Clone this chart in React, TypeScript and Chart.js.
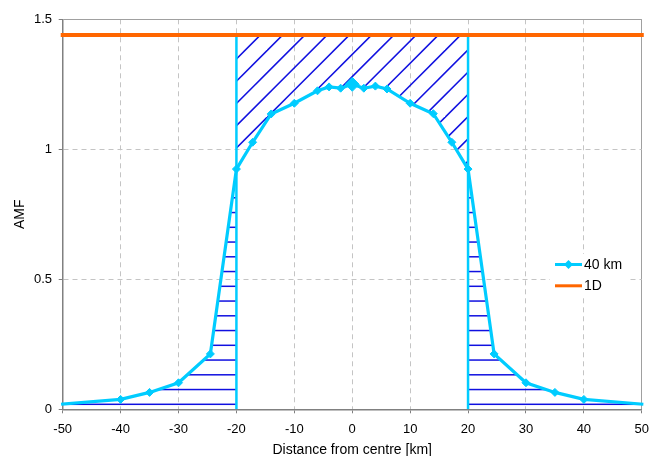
import { useEffect, useRef } from 'react';
import { Chart, registerables } from 'chart.js';

Chart.register(...registerables);

// ---- data ----
const distances = [-50, -40, -35, -30, -24.5, -20, -17.2, -14, -10, -6, -4, -2, 0, 2, 4, 6, 10, 14, 17.2, 20, 24.5, 30, 35, 40, 50];
const amf40km = [0.02, 0.038, 0.065, 0.102, 0.213, 0.924, 1.027, 1.136, 1.177, 1.225, 1.24, 1.235, 1.25, 1.235, 1.243, 1.232, 1.177, 1.137, 1.027, 0.924, 0.213, 0.102, 0.065, 0.038, 0.02];
const amf1D = 1.44;
const xRange = [-50, 50];
const cloudEdges = [-20, 20];
const xTicks = [-50, -40, -30, -20, -10, 0, 10, 20, 30, 40, 50];
const yTicks = [0, 0.5, 1, 1.5];
const yTickLabels = ['0', '0.5', '1', '1.5'];
const seriesLabels = ['40 km', '1D'];
const xTitle = 'Distance from centre [km]';
const yTitle = 'AMF';

const FONT = '"Liberation Sans", Arial, Helvetica, sans-serif';
const CYAN = '#00ccff';
const ORANGE = '#ff6600';
const HATCH = '#1010e0';

function horizontalHatch(ctx: CanvasRenderingContext2D, spacing: number, offset: number) {
  const n = 4;
  const H = Math.round(spacing * n);
  const step = H / n;
  const c = document.createElement('canvas');
  c.width = 8;
  c.height = H;
  const g = c.getContext('2d')!;
  g.strokeStyle = HATCH;
  g.lineWidth = 1.5;
  for (let k = -1; k <= n; k++) {
    const y = offset + k * step;
    g.beginPath();
    g.moveTo(0, y);
    g.lineTo(8, y);
    g.stroke();
  }
  return ctx.createPattern(c, 'repeat')!;
}

function diagonalHatch(ctx: CanvasRenderingContext2D, spacing: number, offset: number) {
  const n = 4;
  const S = Math.round(spacing * n);
  const step = S / n;
  const c = document.createElement('canvas');
  c.width = S;
  c.height = S;
  const g = c.getContext('2d')!;
  g.strokeStyle = HATCH;
  g.lineWidth = 1.5;
  for (let k = -2; k <= 2 * n + 2; k++) {
    const cc = offset + k * step;
    g.beginPath();
    g.moveTo(cc + 10, -10);
    g.lineTo(-10, cc + 10);
    g.stroke();
  }
  return ctx.createPattern(c, 'repeat')!;
}

const sideLegend = {
  id: 'sideLegend',
  afterDatasetsDraw(chart: any) {
    const ctx = chart.ctx as CanvasRenderingContext2D;
    ctx.save();
    ctx.fillStyle = '#ffffff';
    ctx.fillRect(550, 254, 78, 42);
    [0, 1].forEach((di, i) => {
      const ds = chart.data.datasets[di];
      const y = 264.5 + i * 21.3;
      ctx.strokeStyle = ds.borderColor;
      ctx.lineWidth = 3;
      ctx.beginPath();
      ctx.moveTo(555, y);
      ctx.lineTo(582, y);
      ctx.stroke();
      if (i === 0) {
        const r = 4.5;
        const cx = 568.5;
        ctx.fillStyle = ds.borderColor;
        ctx.beginPath();
        ctx.moveTo(cx - r, y);
        ctx.lineTo(cx, y - r);
        ctx.lineTo(cx + r, y);
        ctx.lineTo(cx, y + r);
        ctx.closePath();
        ctx.fill();
      }
      ctx.fillStyle = '#000';
      ctx.font = `14px ${FONT}`;
      ctx.textBaseline = 'middle';
      ctx.textAlign = 'left';
      ctx.fillText(ds.label, 584, y + 0.5);
    });
    ctx.restore();
  },
};

export default function App() {
  const ref = useRef<HTMLCanvasElement>(null);

  useEffect(() => {
    const canvas = ref.current!;
    const ctx = canvas.getContext('2d')!;
    const diag = diagonalHatch(ctx, 22.25, 6.15);
    const horiz = horizontalHatch(ctx, 14.75, 6.05);

    const pts = distances.map((x, i) => ({ x, y: amf40km[i] }));
    const inner = pts.filter((p) => p.x >= cloudEdges[0] && p.x <= cloudEdges[1]);
    const left = pts.filter((p) => p.x <= cloudEdges[0]);
    const right = pts.filter((p) => p.x >= cloudEdges[1]);

    const hatchBase = {
      borderColor: 'transparent',
      borderWidth: 0,
      pointRadius: 0,
      tension: 0,
    };

    const chart = new Chart(canvas, {
      type: 'line',
      data: {
        datasets: [
          {
            label: seriesLabels[0],
            data: pts,
            borderColor: CYAN,
            backgroundColor: CYAN,
            borderWidth: 3.2,
            tension: 0,
            pointStyle: 'rectRot',
            pointRadius: (c: any) => {
              const x = c.raw ? c.raw.x : null;
              if (x === xRange[0] || x === xRange[1]) return 0;
              return x === 0 ? 7 : 4;
            },
            pointBackgroundColor: CYAN,
            pointBorderColor: CYAN,
            pointBorderWidth: 1,
            borderCapStyle: 'square',
            clip: false,
            fill: false,
          },
          {
            label: seriesLabels[1],
            data: [
              { x: xRange[0], y: amf1D },
              { x: xRange[1], y: amf1D },
            ],
            borderColor: ORANGE,
            backgroundColor: ORANGE,
            borderWidth: 4,
            pointRadius: 0,
            borderCapStyle: 'square',
            clip: false,
            fill: false,
          },
          {
            label: 'edgeL',
            data: [
              { x: cloudEdges[0], y: 0 },
              { x: cloudEdges[0], y: amf1D },
            ],
            borderColor: CYAN,
            borderWidth: 2.5,
            pointRadius: 0,
            fill: false,
          },
          {
            label: 'edgeR',
            data: [
              { x: cloudEdges[1], y: 0 },
              { x: cloudEdges[1], y: amf1D },
            ],
            borderColor: CYAN,
            borderWidth: 2.5,
            pointRadius: 0,
            fill: false,
          },
          { ...hatchBase, label: 'hatchIn', data: inner, backgroundColor: diag, fill: { value: amf1D } },
          { ...hatchBase, label: 'hatchL', data: left, backgroundColor: horiz, fill: { value: 0 } },
          { ...hatchBase, label: 'hatchR', data: right, backgroundColor: horiz, fill: { value: 0 } },
        ] as any,
      },
      options: {
        responsive: false,
        animation: false,
        devicePixelRatio: 1,
        events: [],
        layout: { padding: { top: 19.3, right: 7.7, bottom: 0, left: 0 } },
        plugins: {
          legend: { display: false },
          tooltip: { enabled: false },
        },
        scales: {
          x: {
            type: 'linear',
            min: xRange[0],
            max: xRange[1],
            afterBuildTicks: (s: any) => {
              s.ticks = xTicks.map((v) => ({ value: v }));
            },
            afterFit: (s: any) => {
              s.height = 46.7;
            },
            grid: {
              color: (c: any) => (c.tick && c.tick.value === xRange[1] ? '#a0a0a0' : '#c4c4c4'),
              lineWidth: 1,
              tickLength: 4,
              tickColor: '#808080',
              tickWidth: 1,
              tickBorderDash: [],
            },
            border: {
              display: true,
              color: '#808080',
              width: 1.5,
              dash: (c: any) => (c && c.tick && c.tick.value === xRange[1] ? [] : [5, 4]),
            },
            ticks: {
              color: '#000',
              font: { family: FONT, size: 13 },
              padding: 8,
              maxRotation: 0,
              autoSkip: false,
              callback: (v: any) => String(v),
            },
            title: {
              display: true,
              text: xTitle,
              color: '#000',
              font: { family: FONT, size: 14, lineHeight: 0.9 },
              padding: 0,
            },
          },
          y: {
            type: 'linear',
            min: yTicks[0],
            max: yTicks[yTicks.length - 1],
            afterBuildTicks: (s: any) => {
              s.ticks = yTicks.map((v) => ({ value: v }));
            },
            afterFit: (s: any) => {
              s.width = 62.7;
            },
            grid: {
              color: (c: any) => (c.tick && c.tick.value === yTicks[yTicks.length - 1] ? '#a0a0a0' : '#c4c4c4'),
              lineWidth: 1,
              tickLength: 4,
              tickColor: '#808080',
              tickWidth: 1,
              tickBorderDash: [],
            },
            border: {
              display: true,
              color: '#808080',
              width: 1.5,
              dash: (c: any) => (c && c.tick && c.tick.value === yTicks[yTicks.length - 1] ? [] : [5, 4]),
            },
            ticks: {
              color: '#000',
              font: { family: FONT, size: 13 },
              padding: 6.7,
              callback: (v: any) => {
                const i = yTicks.indexOf(Number(v));
                return i >= 0 ? yTickLabels[i] : String(v);
              },
            },
            title: {
              display: true,
              text: yTitle,
              color: '#000',
              font: { family: FONT, size: 14 },
              padding: { top: 12, bottom: 0 },
            },
          },
        },
      } as any,
      plugins: [sideLegend],
    });

    return () => chart.destroy();
  }, []);

  return (
    <div style={{ position: 'fixed', left: 0, top: 0, width: 657, height: 456, background: '#fff' }}>
      <canvas ref={ref} width={657} height={456} style={{ display: 'block' }} />
    </div>
  );
}
